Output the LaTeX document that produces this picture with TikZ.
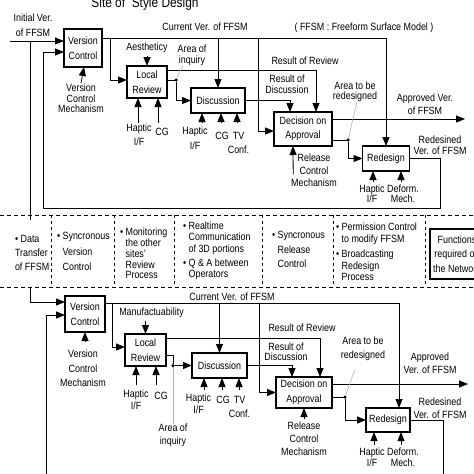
\documentclass[tikz,border=0pt]{standalone}
\usepackage{fontspec}
\setmainfont[FakeStretch=0.85]{Liberation Sans}
\usetikzlibrary{arrows.meta}
\newcommand{\bulind}{\hphantom{•\ }}

\begin{document}
\begin{tikzpicture}[x=1pt,y=-1pt,inner sep=0pt,outer sep=0pt,line width=0.8pt,
>={Triangle[length=9pt,width=7pt]},
every node/.style={align=center,font=\fontsize{10.5}{11.5}\selectfont},
lbl/.style={font=\fontsize{10.5}{#1}\selectfont},
sysblock/.style={draw,rectangle,line width=1.8pt,font=\fontsize{10.5}{14.5}\selectfont},
junction/.style={circle,fill,minimum size=3.5pt},
leader/.style={gray!60,line width=0.6pt},
divider/.style={dash pattern=on 4pt off 3pt,line width=1pt}]

\fill[white] (0,0) rectangle (474,474);
\useasboundingbox (0,0) rectangle (474,474);

% upper site
\draw (145,4) node[font=\fontsize{14}{16}\selectfont] (title) {Site of \ Style Design};

\draw (83,48) node[sysblock,minimum width=38pt,minimum height=38pt] (vc1) {Version\\Control};
\draw (147,82) node[sysblock,minimum width=40pt,minimum height=32pt] (lr1) {Local\\Review};
\draw (218,100.5) node[sysblock,minimum width=54pt,minimum height=25pt] (dis1) {Discussion};
\draw (303,129) node[sysblock,minimum width=58pt,minimum height=34pt] (dec1) {Decision on\\Approval};
\draw (386,158.5) node[sysblock,minimum width=47pt,minimum height=25pt] (red1) {Redesign};

\draw (33,25) node[lbl=15] (init) {Initial Ver.\\of FFSM};
\draw (205,27) node (cur1) {Current Ver. of FFSM};
\draw (364,27.5) node (note) {( FFSM : Freeform Surface Model )};
\draw (192,55.5) node[lbl=11] (inq1) {Area of\\inquiry};
\draw (305,61) node (rev1) {Result of Review};
\draw (287,84.5) node[lbl=11] (resdis1) {Result of\\Discussion};
\draw (355,92) node[lbl=10] (area1) {Area to be\\redesigned};
\draw (425,104.5) node[lbl=13] (appr1) {Approved Ver.\\of FFSM};
\draw (440,145.5) node[lbl=11] (redver1) {Redesined\\Ver. of FFSM};
\draw (314,170.5) node[lbl=12.5] (relmech1) {Release\\Control\\Mechanism};

\coordinate (in1) at (10,41);
\coordinate (cv1) at ([yshift=10pt]vc1.east);
\coordinate (fb1) at (440,208);
\coordinate (fb2) at (43,208);
\draw[->] (in1) -- (in1 -| vc1.west);
\draw[->] (cv1) -| (red1.north);
\draw[->] ([xshift=8pt]cv1) |- ([yshift=2pt]lr1.west);
\draw[->] (cv1 -| dis1.north) -- (dis1.north);
\draw[->] ([xshift=156pt]cv1) |- ([yshift=-2pt]dec1.west);
\draw[->] ([yshift=12pt]lr1.east) -| ([xshift=13pt]dec1.north);
\draw ([yshift=2pt]lr1.east) -- ++(9,0) node[junction] (d1) {};
\draw[->] (d1) |- (dis1.west);
\draw[->] (dis1.east) -| ([xshift=-13pt]dec1.north);
\draw[->] ([yshift=10pt]dec1.east) -- ++(133,0) coordinate (out1);
\draw ([yshift=-11pt]dec1.east) -- ++(16,0) node[junction] (d2) {};
\draw[->] (d2) |- (red1.west);
\draw[->] (red1.east) -| (fb1) -- (fb2) |- ([yshift=-4pt]vc1.west);

\draw[<-] (lr1.north) -- ++(0,-10) node[above=3pt] (aes) {Aestheticy};
\draw[<-] ([xshift=1pt]vc1.south) -- ++(-3,16) node[below=1pt,lbl=10.5] (vcmech1) {Version\\Control\\Mechanism};
\draw[<-] ([xshift=-9pt]lr1.south) -- ++(0,25) node[below=1pt,xshift=1pt,lbl=14] (lrhap1) {Haptic\\I/F};
\draw[<-] ([xshift=11pt]lr1.south) -- ++(0,25) node[below=5pt,xshift=4pt] (lrcg1) {CG};
\draw[<-] ([xshift=-16pt]dis1.south) -- ++(0,10) node[below=4pt,xshift=-7pt,lbl=15] (dishap1) {Haptic\\I/F};
\draw[<-] ([xshift=3pt]dis1.south) -- ++(0,10) node[below=9pt,xshift=1pt] (discg1) {CG};
\draw[<-] ([xshift=19pt]dis1.south) -- ++(0,10) node[below=9pt,xshift=1.5pt,lbl=14] (distv1) {TV\\Conf.};
\draw[<-] ([xshift=-10pt]dec1.south) -- ([xshift=2pt,yshift=-4pt]relmech1.west);
\draw[<-] ([xshift=-13pt]red1.south) -- ++(0,11) node[below=3pt,xshift=-1pt,lbl=10] (redhap1) {Haptic\\I/F};
\draw[<-] ([xshift=15pt]red1.south) -- ++(0,11) node[below=3pt,xshift=2pt,lbl=10] (reddef1) {Deform.\\Mech.};

\draw[leader] (d1) -- ([xshift=5pt]inq1.south west);
\draw[leader] (d2) -- ([xshift=2pt]area1.south);

% network functions
\draw[divider] (0,215) -- (474,215);
\draw[divider] (0,287) -- (474,287);
\foreach \x in {51,114,174,262,333,425}
  \draw[divider,line width=0.6pt,dash pattern=on 3pt off 3pt] (\x,215) -- (\x,287);

\draw (15,253) node[anchor=west,align=left,lbl=14] (data) {• Data\\Transfer\\of FFSM};
\draw (57,251.5) node[anchor=west,align=left,lbl=15.5] (syncver) {• Syncronous\\\bulind Version\\\bulind Control};
\draw (120,253.5) node[anchor=west,align=left,lbl=10.8] (monitor) {• Monitoring\\\bulind the other\\\bulind sites'\\\bulind Review\\\bulind Process};
\draw (183,251) node[anchor=west,align=left,lbl=11.5] (realtime) {• Realtime\\\bulind Communication\\\bulind of 3D portions\\[2.5pt]• Q \& A between\\\bulind Operators};
\draw (272,249.5) node[anchor=west,align=left,lbl=14.5] (syncrel) {• Syncronous\\\bulind Release\\\bulind Control};
\draw (336,252) node[anchor=west,align=left,lbl=11.5] (perm) {• Permission Control\\\bulind to modify FFSM\\[4pt]• Broadcasting\\\bulind Redesign\\\bulind Process};
\draw (457,254) node[draw,line width=1.6pt,minimum width=54pt,minimum height=50pt,lbl=14.5] (func) {Functions\\required on\\the Network};

% lower site
\draw (85,314) node[sysblock,minimum width=40pt,minimum height=36pt] (vc2) {Version\\Control};
\draw (145.5,350) node[sysblock,minimum width=41pt,minimum height=32pt] (lr2) {Local\\Review};
\draw (219.5,365.5) node[sysblock,minimum width=55pt,minimum height=25pt] (dis2) {Discussion};
\draw (304,392.5) node[sysblock,minimum width=56pt,minimum height=31pt] (dec2) {Decision on\\Approval};
\draw (388,420) node[sysblock,minimum width=44pt,minimum height=24pt] (red2) {Redesign};

% data transfer between the sites
\coordinate (dt1) at (30,41);
\coordinate (dt2) at (30,220);
\coordinate (dt3) at (30,288);
\draw (dt1) -- (dt2);
\draw[->] (dt3) |- ([yshift=12pt]vc2.west);

\draw (232,297) node (cur2) {Current Ver. of FFSM};
\draw (302,328) node (rev2) {Result of Review};
\draw (286,352) node[lbl=10] (resdis2) {Result of\\Discussion};
\draw (363,349) node[lbl=14] (area2) {Area to be\\redesigned};
\draw (430,363.5) node[lbl=13] (appr2) {Approved\\Ver. of FFSM};
\draw (440,408.5) node[lbl=13] (redver2) {Redesined\\Ver. of FFSM};
\draw (173,435) node[lbl=13] (inq2) {Area of\\inquiry};

\coordinate (cv2) at ([yshift=11pt]vc2.east);
\coordinate (fb3) at (443,480);
\coordinate (fb4) at (46,480);
\draw[->] (cv2) -| ([xshift=11pt]red2.north);
\draw[->] ([xshift=7pt]cv2) |- ([yshift=3pt]lr2.west);
\draw[->] (cv2 -| dis2.north) -- (dis2.north);
\draw[->] ([xshift=154pt]cv2) |- (dec2.west);
\draw[->] ([yshift=12pt]lr2.east) -| ([xshift=16pt]dec2.north);
\draw (173,365.5) node[junction] (d3) {};
\draw ([yshift=-5pt]lr2.east) -| (d3);
\draw[->] (d3) -- (dis2.west);
\draw[->] (dis2.east) -| ([xshift=-12pt]dec2.north);
\draw[->] ([yshift=8.5pt]dec2.east) -- ++(136,0) coordinate (out2);
\draw ([yshift=-4.5pt]dec2.east) -- ++(13,0) node[junction] (d4) {};
\draw[->] (d4) |- (red2.west);
\draw (red2.east) -| (fb3);
\draw[->] (fb4) |- ([yshift=-1pt]vc2.west);

\draw[<-] (lr2.north) -- ++(0,-13) node[above=3pt,xshift=6pt] (manuf) {Manufactuability};
\draw[<-] (vc2.south) -- ++(0,10) node[below=8pt,xshift=-2pt,lbl=14.5] (vcmech2) {Version\\Control\\Mechanism};
\draw[<-] ([xshift=-9.5pt]lr2.south) -- ++(0,19) node[below=5pt,lbl=12] (lrhap2) {Haptic\\I/F};
\draw[<-] ([xshift=10.5pt]lr2.south) -- ++(0,19) node[below=7pt,xshift=5pt] (lrcg2) {CG};
\draw[<-] ([xshift=-15.5pt]dis2.south) -- ++(0,12) node[below=4pt,xshift=-5.5pt,lbl=12] (dishap2) {Haptic\\I/F};
\draw[<-] ([xshift=2.5pt]dis2.south) -- ++(0,12) node[below=6pt,xshift=1pt] (discg2) {CG};
\draw[<-] ([xshift=19.5pt]dis2.south) -- ++(0,12) node[below=6pt,xshift=0.5pt,lbl=14] (distv2) {TV\\Conf.};
\draw[<-] (dec2.south) -- ++(0,11) node[below=3pt,lbl=13] (relmech2) {Release\\Control\\Mechanism};
\draw[<-] ([xshift=-14pt]red2.south) -- ++(0,13) node[below=3pt,xshift=-2pt,lbl=11] (redhap2) {Haptic\\I/F};
\draw[<-] ([xshift=13pt]red2.south) -- ++(0,13) node[below=3pt,xshift=2pt,lbl=11] (reddef2) {Deform.\\Mech.};

\draw[leader] (d3) -- (inq2.north);
\draw[leader] (d4) -- ([xshift=-8pt,yshift=-8pt]area2.south);

\end{tikzpicture}
\end{document}
